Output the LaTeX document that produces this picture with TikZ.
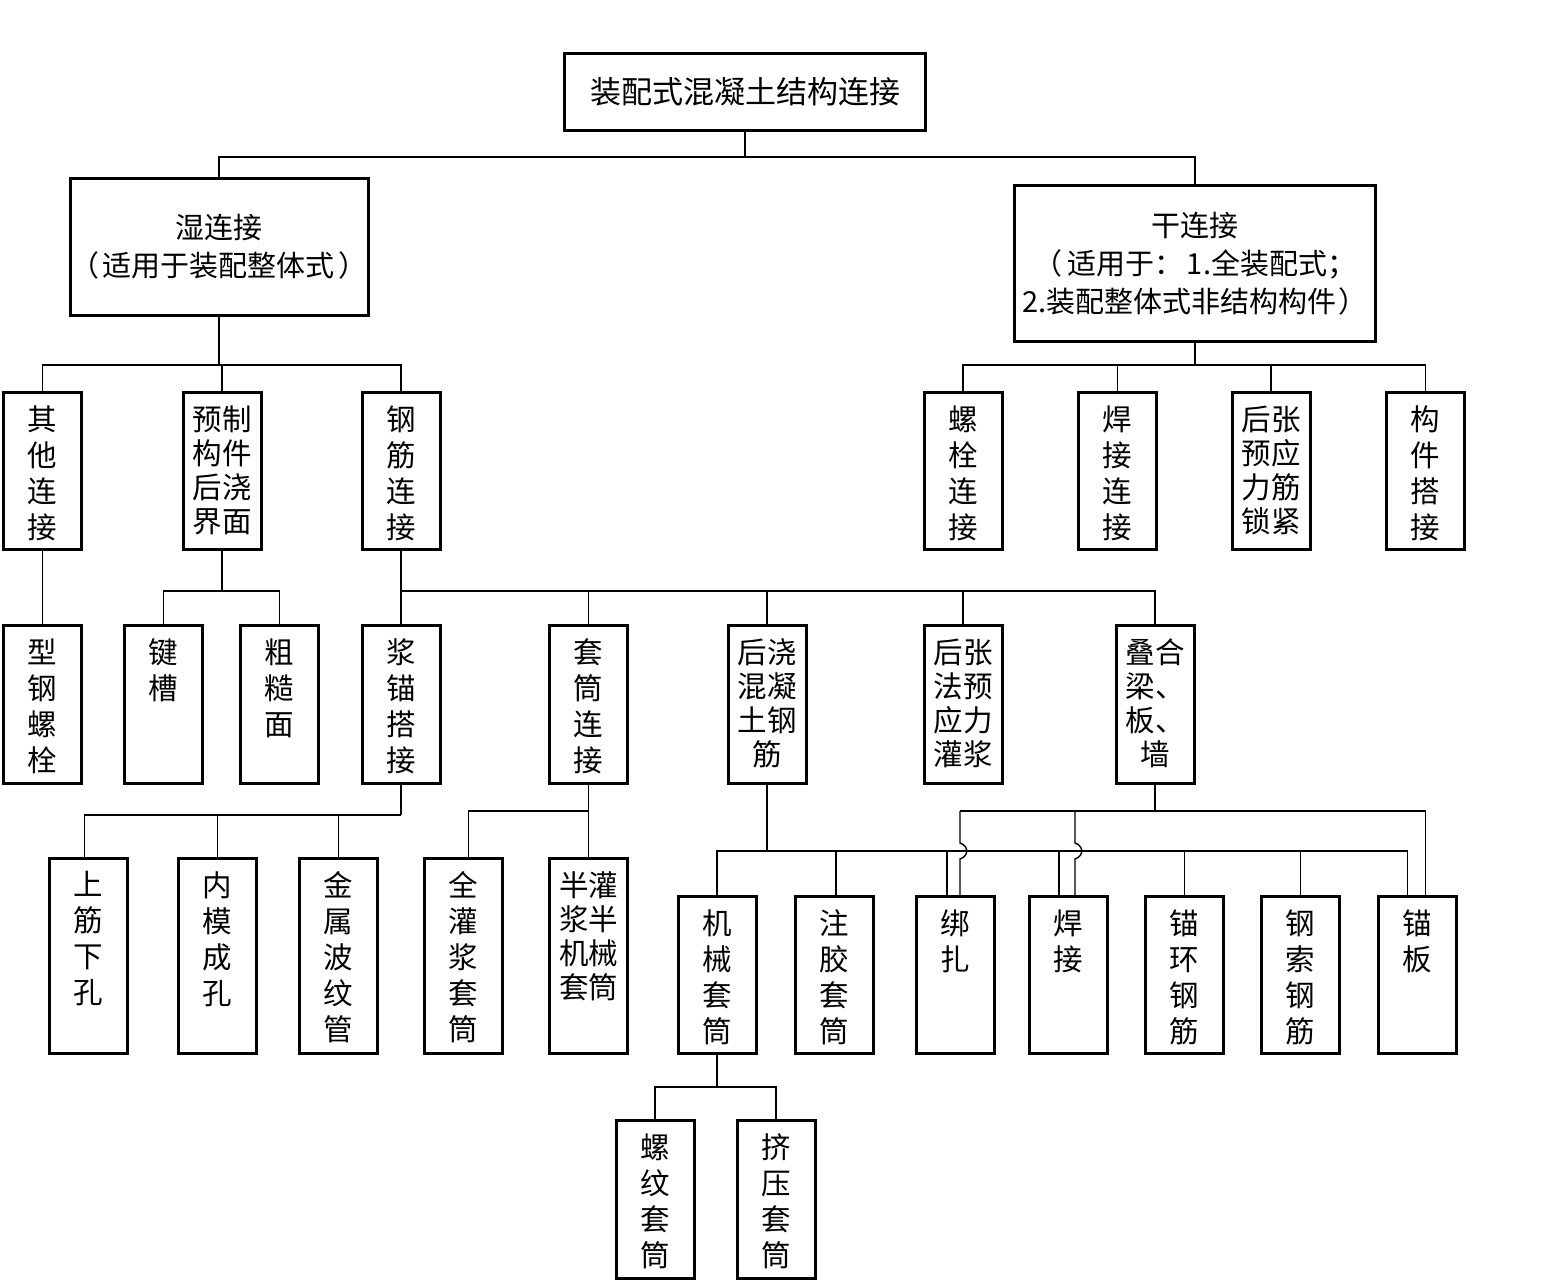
\documentclass[tikz,border=0pt]{standalone}
\usepackage{fontspec}
\setmainfont{Noto Sans CJK SC}
\newcommand{\V}[2]{\parbox[c][#1][t]{75pt}{\centering\fontsize{29.5pt}{36pt}\selectfont\vspace*{13pt}#2}}
\newcommand{\W}[2]{\parbox[c][#1][t]{75pt}{\centering\fontsize{29.5pt}{34pt}\selectfont\vspace*{13pt}#2}}
\begin{document}
\begin{tikzpicture}[x=1pt,y=-1pt,
  cb/.style={draw, line width=3pt, inner sep=0pt, minimum width=78pt},
  wide/.style={draw, line width=3pt, inner sep=0pt, align=center, font=\fontsize{29pt}{38pt}\selectfont},
  ln/.style={line width=1.4pt}]
\useasboundingbox[fill=white] (0,0) rectangle (1558,1284);
% level 0/1
\node[wide, minimum width=361pt, minimum height=77pt, font=\fontsize{31pt}{36pt}\selectfont] (root) at (745,92) {装配式混凝土结构连接};
\node[wide, minimum width=297pt, minimum height=137pt] (wet) at (219,247) {湿连接\\（\hspace{4pt}适用于装配整体式\hspace{4pt}）};
\node[wide, minimum width=361pt, minimum height=156pt] (dry) at (1195,263.5) {干连接\\（\hspace{5pt}适用于：\hspace{3pt}1.全装配式；\\2.装配整体式非结构构件\hspace{2pt}）};
% level 2
\node[cb] (qt) at (42.5,471) {\V{157pt}{其\\他\\连\\接}};
\node[cb] (yz) at (222,471) {\W{157pt}{预制\\构件\\后浇\\界面}};
\node[cb] (gj) at (401,471) {\V{157pt}{钢\\筋\\连\\接}};
\node[cb] (ls) at (963,471) {\V{157pt}{螺\\栓\\连\\接}};
\node[cb] (hj) at (1117.5,471) {\V{157pt}{焊\\接\\连\\接}};
\node[cb] (hz) at (1271,471) {\W{157pt}{后张\\预应\\力筋\\锁紧}};
\node[cb] (gd) at (1425.5,471) {\V{157pt}{构\\件\\搭\\接}};
% level 3
\node[cb] (xg) at (42.5,704.5) {\V{158pt}{型\\钢\\螺\\栓}};
\node[cb] (jc) at (163.5,704.5) {\V{158pt}{键\\槽}};
\node[cb] (cc) at (279.5,704.5) {\V{158pt}{粗\\糙\\面}};
\node[cb] (jm) at (401,704.5) {\V{158pt}{浆\\锚\\搭\\接}};
\node[cb] (tt) at (588.5,704.5) {\V{158pt}{套\\筒\\连\\接}};
\node[cb] (hjh) at (767,704.5) {\W{158pt}{后浇\\混凝\\土钢\\筋}};
\node[cb] (hzf) at (963,704.5) {\W{158pt}{后张\\法预\\应力\\灌浆}};
\node[cb] (dh) at (1155,704.5) {\W{158pt}{叠合\\梁、\\板、\\墙}};
% level 4a
\node[cb] (sj) at (88.5,956) {\V{195pt}{上\\筋\\下\\孔}};
\node[cb] (nm) at (217.5,956) {\V{195pt}{内\\模\\成\\孔}};
\node[cb] (js) at (338.5,956) {\V{195pt}{金\\属\\波\\纹\\管}};
\node[cb] (qg) at (463.5,956) {\V{195pt}{全\\灌\\浆\\套\\筒}};
\node[cb] (bg) at (588.5,956) {\W{195pt}{半灌\\浆半\\机械\\套筒}};
% level 4b
\node[cb] (jx) at (717,975) {\V{157pt}{机\\械\\套\\筒}};
\node[cb] (zj) at (834,975) {\V{157pt}{注\\胶\\套\\筒}};
\node[cb] (bz) at (955,975) {\V{157pt}{绑\\扎}};
\node[cb] (hjj) at (1068,975) {\V{157pt}{焊\\接}};
\node[cb] (mh) at (1184.5,975) {\V{157pt}{锚\\环\\钢\\筋}};
\node[cb] (sq) at (1300.5,975) {\V{157pt}{钢\\索\\钢\\筋}};
\node[cb] (mb) at (1417.5,975) {\V{157pt}{锚\\板}};
% level 5
\node[cb] (lw) at (655,1199.5) {\V{158pt}{螺\\纹\\套\\筒}};
\node[cb] (jy) at (776,1199.5) {\V{158pt}{挤\\压\\套\\筒}};
% connectors
\draw[ln] (root.south) -- (root.south |- 0,157);
\draw[ln] (wet.north) |- (dry.north |- 0,157) -- (dry.north);
\draw[ln] (wet.south) -- (wet.south |- 0,365);
\draw[ln] (qt.north) |- (gj.north |- 0,365) -- (gj.north);
\draw[ln] (yz.north) -- (yz.north |- 0,365);
\draw[ln] (dry.south) -- (dry.south |- 0,365);
\draw[ln] (ls.north) |- (gd.north |- 0,365) -- (gd.north);
\draw[ln] (hj.north) -- (hj.north |- 0,365);
\draw[ln] (hz.north) -- (hz.north |- 0,365);
\draw[ln] (qt.south) -- (xg.north);
\draw[ln] (yz.south) -- (yz.south |- 0,591);
\draw[ln] (jc.north) |- (cc.north |- 0,591) -- (cc.north);
\draw[ln] (gj.south) -- (jm.north);
\draw[ln] (gj.south |- 0,591) -| (dh.north);
\draw[ln] (tt.north) -- (tt.north |- 0,591);
\draw[ln] (hjh.north) -- (hjh.north |- 0,591);
\draw[ln] (hzf.north) -- (hzf.north |- 0,591);
\draw[ln] (jm.south) -- (jm.south |- 0,815);
\draw[ln] ([xshift=-4pt]sj.north) |- (jm.south |- 0,815);
\draw[ln] (nm.north) -- (nm.north |- 0,815);
\draw[ln] (js.north) -- (js.north |- 0,815);
\draw[ln] (tt.south) -- (bg.north);
\draw[ln] ([xshift=5pt]qg.north) |- (tt.south |- 0,811);
\draw[ln] (hjh.south) -- (hjh.south |- 0,851);
\draw[ln] (jx.north) |- ([xshift=-10pt]mb.north |- 0,851) -- ([xshift=-10pt]mb.north);
\draw[ln] ([xshift=2pt]zj.north) -- ([xshift=2pt]zj.north |- 0,851);
\draw[ln] ([xshift=-8pt]bz.north) -- ([xshift=-8pt]bz.north |- 0,851);
\draw[ln] ([xshift=-9pt]hjj.north) -- ([xshift=-9pt]hjj.north |- 0,851);
\draw[ln] (mh.north) -- (mh.north |- 0,851);
\draw[ln] (sq.north) -- (sq.north |- 0,851);
\draw[ln] (dh.south) -- (dh.south |- 0,811);
\draw[ln] ([xshift=5pt]bz.north |- 0,811) -- ([xshift=8pt]mb.north |- 0,811) -- ([xshift=8pt]mb.north);
\draw[ln] ([xshift=5pt]bz.north |- 0,811) -- ([xshift=5pt]bz.north |- 0,843) .. controls +(9,3) and +(9,-3) .. ([xshift=5pt]bz.north |- 0,859) -- ([xshift=5pt]bz.north);
\draw[ln] ([xshift=7pt]hjj.north |- 0,811) -- ([xshift=7pt]hjj.north |- 0,843) .. controls +(9,3) and +(9,-3) .. ([xshift=7pt]hjj.north |- 0,859) -- ([xshift=7pt]hjj.north);
\draw[ln] (jx.south) -- (jx.south |- 0,1087);
\draw[ln] (lw.north) |- (jy.north |- 0,1087) -- (jy.north);
\end{tikzpicture}
\end{document}
